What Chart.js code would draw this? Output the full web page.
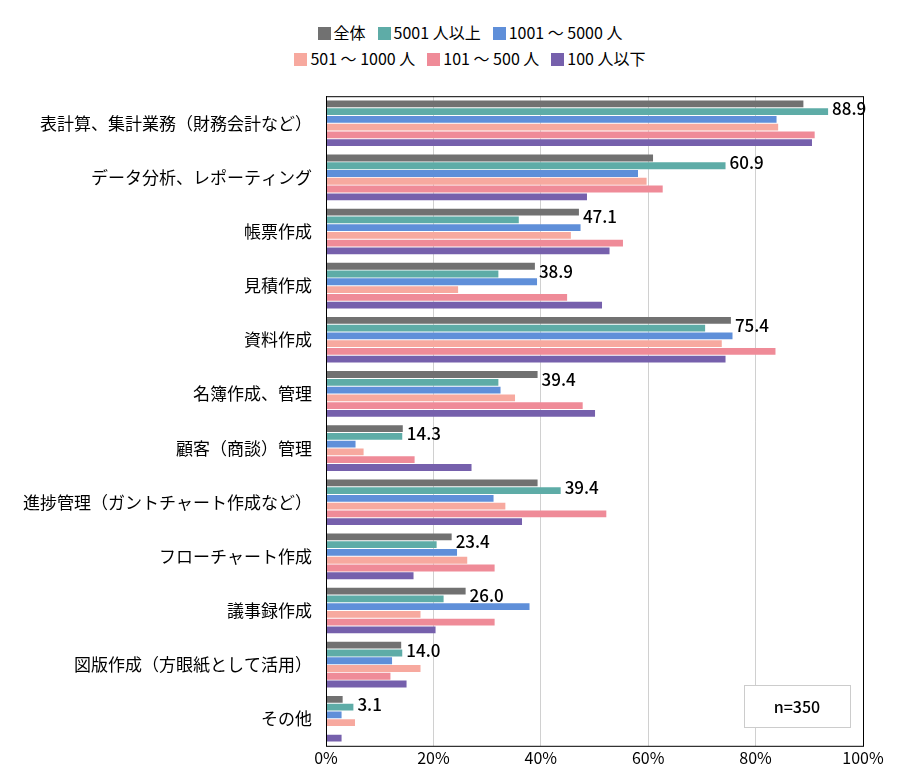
<!DOCTYPE html>
<html><head><meta charset="utf-8">
<script src="https://cdn.jsdelivr.net/npm/chart.js@4"></script>
<style>
html,body{margin:0;background:#fff}
#legend{height:80px;box-sizing:border-box;padding-top:19px;font:16px 'Noto Sans CJK JP','Noto Sans',sans-serif;color:#000;text-align:center;padding-left:40px}
#legend div{height:26px;line-height:26px}
#legend span{display:inline-block;margin:0 6px}
#legend i{display:inline-block;width:13px;height:13px;margin-right:3px;vertical-align:-1px}
#wrap{width:900px;height:701px}
</style>
</head><body><div id="legend"></div><div id="wrap"><canvas id="c"></canvas></div>
<script>
const categories = ['表計算、集計業務（財務会計など）','データ分析、レポーティング','帳票作成','見積作成','資料作成','名簿作成、管理','顧客（商談）管理','進捗管理（ガントチャート作成など）','フローチャート作成','議事録作成','図版作成（方眼紙として活用）','その他'];
const seriesNames = ['全体','5001 人以上','1001 〜 5000 人','501 〜 1000 人','101 〜 500 人','100 人以下'];
const seriesColors = ['#717171','#5eaca7','#5f8fd9','#f7a99f','#ef8b98','#7660ac'];
const allValues = [88.9,60.9,47.1,38.9,75.4,39.4,14.3,39.4,23.4,26.0,14.0,3.1];
const over5001 = [93.5,74.4,35.9,32.1,70.6,32.1,14.2,43.7,20.6,21.9,14.2,5.1];
const from1001 = [83.9,58.1,47.4,39.3,75.7,32.5,5.5,31.2,24.4,37.9,12.3,2.9];
const from501 = [84.2,59.7,45.6,24.6,73.7,35.2,7.0,33.4,26.3,17.6,17.6,5.4];
const from101 = [91.0,62.7,55.3,44.9,83.7,47.8,16.5,52.2,31.4,31.4,12.0,0];
const under100 = [90.5,48.6,52.8,51.4,74.4,50.1,27.1,36.5,16.3,20.4,15.0,2.9];
const xTicks = [0,20,40,60,80,100];

const seriesData = [allValues,over5001,from1001,from501,from101,under100];
const font = "'Noto Sans CJK JP','Noto Sans',sans-serif";

// 凡例（2段）
const lg = document.getElementById('legend');
[[0,1,2],[3,4,5]].forEach(row => {
  const d = document.createElement('div');
  row.forEach(i => {
    const s = document.createElement('span');
    s.innerHTML = '<i style="background:' + seriesColors[i] + '"></i>' + seriesNames[i];
    d.appendChild(s);
  });
  lg.appendChild(d);
});

const extras = {
  id: 'extras',
  afterDatasetsDraw(chart) {
    const ctx = chart.ctx, a = chart.chartArea;
    ctx.save();
    ctx.strokeStyle = '#000'; ctx.lineWidth = 1;
    ctx.strokeRect(a.left + 0.5, a.top + 0.5, a.right - a.left, a.bottom - a.top);
    const m0 = chart.getDatasetMeta(0), m1 = chart.getDatasetMeta(1);
    ctx.font = '500 17px ' + font; ctx.fillStyle = '#000'; ctx.textBaseline = 'middle';
    m0.data.forEach((bar, i) => {
      const x = Math.max(bar.x, m1.data[i].x);
      ctx.fillText(allValues[i].toFixed(1), x + 4, (bar.y + m1.data[i].y) / 2 + 1);
    });
    ctx.fillStyle = '#fff'; ctx.strokeStyle = '#ccc';
    ctx.fillRect(744, 605, 106, 42); ctx.strokeRect(744.5, 605.5, 106, 42);
    ctx.fillStyle = '#000'; ctx.font = '500 16px ' + font; ctx.textAlign = 'center';
    ctx.fillText('n=350', 797, 627);
    ctx.restore();
  }
};

new Chart(document.getElementById('c'), {
  type: 'bar',
  data: {
    labels: categories,
    datasets: seriesNames.map((n, i) => ({
      label: n, data: seriesData[i], backgroundColor: seriesColors[i],
      categoryPercentage: 0.86, barPercentage: 0.88
    }))
  },
  options: {
    indexAxis: 'y', responsive: true, maintainAspectRatio: false, animation: false,
    layout: { padding: { left: 10, right: 37, top: 8, bottom: 10 } },
    plugins: { tooltip: { enabled: false }, legend: { display: false } },
    scales: {
      x: {
        min: 0, max: 100,
        afterBuildTicks: s => { s.ticks = xTicks.map(v => ({ value: v })); },
        ticks: { callback: v => v + '%', font: { family: font, size: 16 }, color: '#000' },
        grid: { color: '#d0d0d0', drawTicks: false },
        border: { display: false }
      },
      y: {
        afterFit: s => { s.width = 316; },
        ticks: { font: { family: font, size: 17 }, color: '#000', padding: 6 },
        grid: { display: false },
        border: { color: '#000' }
      }
    }
  },
  plugins: [extras]
});
</script></body></html>
